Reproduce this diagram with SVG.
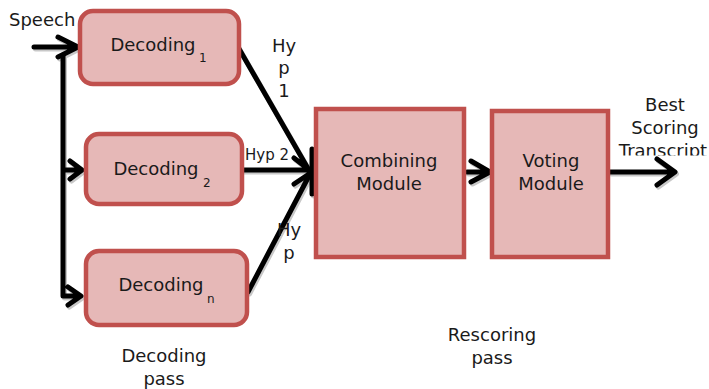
<svg xmlns="http://www.w3.org/2000/svg" width="709" height="389" viewBox="0 0 709 389">
<defs>
<style>
.box{fill:#E6B8B7;stroke:#C0504D;stroke-width:4.5}
.t{font-family:"DejaVu Sans","Liberation Sans",sans-serif;fill:#1a1a1a;font-size:18px}
.n{text-anchor:middle}
.s{font-size:12px}
.c{fill:none;stroke:#000;stroke-width:5;stroke-linecap:round;stroke-linejoin:round}
.sh{stroke:#c8c8c8}
</style>
<clipPath id="clipT"><rect x="600" y="140" width="109" height="15.5"/></clipPath>
<g id="arrows">
<path d="M34 47 H76 M58 37 L78 47 L58 57"/>
<path d="M63 55 V296 M63 170 H81 M70 161 L82 170 L70 179 M63 296 H80 M68 287 L81 296 L68 305"/>
<path d="M238 47 L310 172 M242 170 H310 M248 292 L310 174 M294 158 L312 172 L294 184"/>
<path d="M312 149 V194"/>
<path d="M467 172 H488 M471 161 L490 172 L471 182"/>
<path d="M610 172 H673 M657 159 L675 172 L657 185"/>
</g>
</defs>
<g id="connectors">
<use href="#arrows" class="c sh" transform="translate(1.5,2)"/>
<use href="#arrows" class="c"/>
</g>
<g id="dec1">
<rect class="box" x="80" y="11" width="159" height="73" rx="13"/>
<text class="t n" x="153" y="51">Decoding</text><text class="t s" x="199" y="62">1</text>
</g>
<g id="dec2">
<rect class="box" x="86" y="134" width="156" height="70" rx="13"/>
<text class="t n" x="156" y="175">Decoding</text><text class="t s" x="203" y="187">2</text>
</g>
<g id="decn">
<rect class="box" x="86" y="251" width="161" height="74" rx="13"/>
<text class="t n" x="161" y="291">Decoding</text><text class="t s" x="207" y="303">n</text>
</g>
<g id="comb">
<rect class="box" x="316" y="109" width="148" height="148"/>
<text class="t n" x="389" y="167">Combining</text><text class="t n" x="389" y="190">Module</text>
</g>
<g id="vote">
<rect class="box" x="492" y="111" width="116" height="146"/>
<text class="t n" x="551" y="167">Voting</text><text class="t n" x="551" y="190">Module</text>
</g>
<g id="labels">
<text class="t" x="9" y="26">Speech</text>
<text class="t n" x="284" y="52">Hy</text><text class="t n" x="284" y="74">p</text><text class="t n" x="284" y="97">1</text>
<text class="t" x="245" y="160" style="font-size:15px">Hyp 2</text>
<text class="t n" x="289" y="236">Hy</text><text class="t n" x="289" y="259">p</text>
<text class="t n" x="665" y="111">Best</text><text class="t n" x="665" y="134">Scoring</text>
<text class="t n" x="663" y="157" clip-path="url(#clipT)">Transcript</text>
<text class="t n" x="164" y="362">Decoding</text><text class="t n" x="164" y="385">pass</text>
<text class="t n" x="492" y="341">Rescoring</text><text class="t n" x="492" y="364">pass</text>
</g>
</svg>
